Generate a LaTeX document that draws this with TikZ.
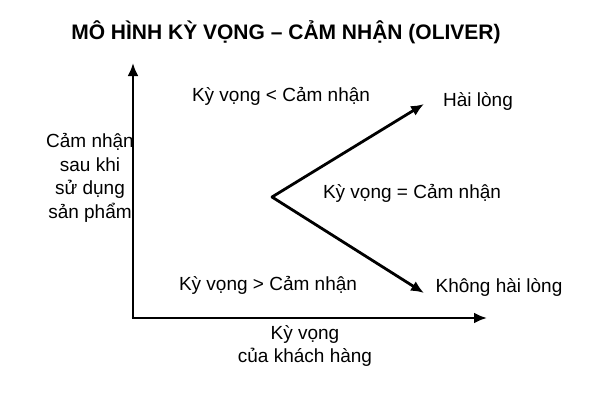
\documentclass[tikz,border=0pt]{standalone}
\usepackage{fontspec}
\setmainfont{Liberation Sans}
\usetikzlibrary{arrows.meta}
\tikzset{
  axis/.style={line width=2.8pt, -{Latex[length=13pt,width=11pt]}},
  lbl/.style={font=\fontsize{19}{22}\selectfont, align=center, inner sep=0pt}
}
\begin{document}
\begin{tikzpicture}[x=1pt,y=-1pt]
  \useasboundingbox (0,0) rectangle (600,400);
  \node[lbl, font=\bfseries\fontsize{21}{24}\selectfont] (title) at (286,32) {MÔ HÌNH KỲ VỌNG – CẢM NHẬN (OLIVER)};
  % axes
  \coordinate (origin) at (133,318);
  \coordinate (ytop) at (133,63);
  \coordinate (xend) at (487,318);
  \draw[axis] (origin) -- (ytop);
  \draw[axis] ([xshift=-1.4pt]origin) -- (xend);
  % branches
  \coordinate (vertex) at (272,197);
  \coordinate (up) at (424,104);
  \coordinate (down) at (424,293);
  \draw[axis, line cap=round] (vertex) -- (up);
  \draw[axis, line cap=round] (vertex) -- (down);
  % labels
  \node[lbl] (less) at (281,96) {Kỳ vọng < Cảm nhận};
  \node[lbl] (hl) at (478,101) {Hài lòng};
  \node[lbl] (eq) at (412,193) {Kỳ vọng = Cảm nhận};
  \node[lbl] (khl) at (499,287) {Không hài lòng};
  \node[lbl] (more) at (268,285) {Kỳ vọng > Cảm nhận};
  \node[lbl, font=\fontsize{19}{23.5}\selectfont] (ylab) at (90,178) {Cảm nhận\\sau khi\\sử dụng\\sản phẩm};
  \node[lbl, font=\fontsize{19}{23}\selectfont] (xlab) at (305,346) {Kỳ vọng\\của khách hàng};
\end{tikzpicture}
\end{document}
